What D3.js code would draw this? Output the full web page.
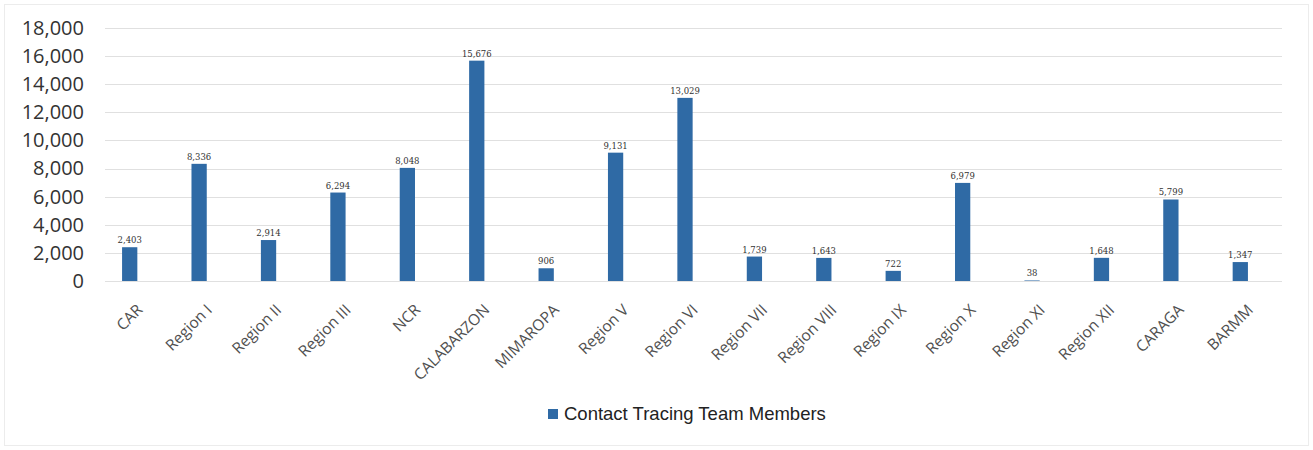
<!DOCTYPE html>
<html>
<head>
<meta charset="utf-8">
<script src="https://cdn.jsdelivr.net/npm/d3@7"></script>
<style>
  html, body { margin: 0; padding: 0; background: #fff; }
  svg { display: block; }
</style>
</head>
<body>
<svg id="chart" width="1313" height="450"></svg>
<script>
const categories = ["CAR", "Region I", "Region II", "Region III", "NCR", "CALABARZON", "MIMAROPA", "Region V", "Region VI", "Region VII", "Region VIII", "Region IX", "Region X", "Region XI", "Region XII", "CARAGA", "BARMM"];
const values = [2403, 8336, 2914, 6294, 8048, 15676, 906, 9131, 13029, 1739, 1643, 722, 6979, 38, 1648, 5799, 1347];
const yTicks = [0, 2000, 4000, 6000, 8000, 10000, 12000, 14000, 16000, 18000];
const seriesName = "Contact Tracing Team Members";

const svg = d3.select("#chart");
const W = 1313, H = 450;
const margin = { left: 95, right: 38, top: 28, bottom: 169 };
const barColor = "#2f6aa5";

// outer chart border
svg.append("rect")
  .attr("x", 4.5).attr("y", 4.5).attr("width", W - 9).attr("height", H - 9)
  .attr("fill", "none").attr("stroke", "#ececec").attr("stroke-width", 1);

const x = d3.scaleBand()
  .domain(categories)
  .range([margin.left, W - margin.right])
  .paddingInner(0.78)
  .paddingOuter(0.39);

const y = d3.scaleLinear()
  .domain([0, 18000])
  .range([H - margin.bottom, margin.top]);

const fmt = d3.format(",");

// gridlines
svg.append("g")
  .selectAll("line")
  .data(yTicks)
  .join("line")
  .attr("x1", 105).attr("x2", 1282)
  .attr("y1", d => Math.round(y(d)) + 0.5)
  .attr("y2", d => Math.round(y(d)) + 0.5)
  .attr("stroke", "#e0e0e0")
  .attr("stroke-width", 1);

// y axis
const yAxis = d3.axisLeft(y).tickValues(yTicks).tickFormat(fmt).tickSize(0).tickPadding(0);
const yg = svg.append("g").attr("transform", "translate(84,0)").call(yAxis);
yg.select(".domain").remove();
yg.selectAll("text")
  .attr("font-family", "'Open Sans', sans-serif")
  .attr("font-size", 20)
  .attr("fill", "#333");

// bars
svg.append("g")
  .selectAll("rect")
  .data(categories)
  .join("rect")
  .attr("x", d => x(d))
  .attr("width", x.bandwidth())
  .attr("y", (d, i) => y(values[i]))
  .attr("height", (d, i) => y(0) - y(values[i]))
  .attr("fill", barColor);

// value labels
svg.append("g")
  .selectAll("text")
  .data(categories)
  .join("text")
  .attr("x", d => x(d) + x.bandwidth() / 2)
  .attr("y", (d, i) => y(values[i]) - 4)
  .attr("text-anchor", "middle")
  .attr("font-family", "'DejaVu Serif', serif")
  .attr("font-size", 8.5)
  .attr("fill", "#333")
  .text((d, i) => fmt(values[i]));

// x axis labels
const xAxis = d3.axisBottom(x).tickSize(0).tickPadding(0);
const xg = svg.append("g").attr("transform", `translate(0,${y(0)})`).call(xAxis);
xg.select(".domain").remove();
xg.selectAll("text")
  .attr("font-family", "'Open Sans', sans-serif")
  .attr("font-size", 15.5)
  .attr("fill", "#505050")
  .attr("text-anchor", "end")
  .attr("dy", "0.35em")
  .attr("transform", "translate(10,26) rotate(-45)");

// legend
const legend = svg.append("g").attr("transform", "translate(548,409)");
legend.append("rect").attr("width", 10).attr("height", 10).attr("fill", barColor);
legend.append("text")
  .attr("x", 16).attr("y", 5)
  .attr("dy", "0.35em")
  .attr("font-family", "'Liberation Sans', Arial, sans-serif")
  .attr("font-size", 18.5)
  .attr("fill", "#222")
  .text(seriesName);
</script>
</body>
</html>
